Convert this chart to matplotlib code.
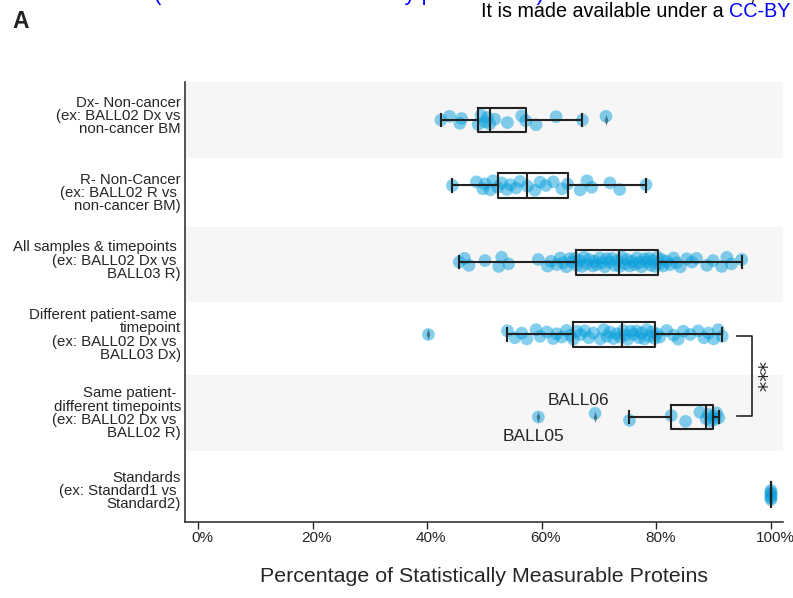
import matplotlib
matplotlib.use('Agg')
import matplotlib.pyplot as plt
import matplotlib.transforms as mtransforms
from matplotlib.path import Path
import numpy as np

plt.rcParams['font.family'] = ['Liberation Sans', 'DejaVu Sans']

# ---------------- data ----------------
categories = [
    "Dx- Non-cancer\n(ex: BALL02 Dx vs\nnon-cancer BM",
    "R- Non-Cancer\n(ex: BALL02 R vs \nnon-cancer BM)",
    "All samples & timepoints \n(ex: BALL02 Dx vs \nBALL03 R)",
    "Different patient-same \ntimepoint\n(ex: BALL02 Dx vs \nBALL03 Dx)",
    "Same patient- \ndifferent timepoints\n(ex: BALL02 Dx vs \nBALL02 R)",
    "Standards\n(ex: Standard1 vs \nStandard2)",
]

dx_noncancer = [42.4, 43.9, 45.7, 46.0, 48.9, 49.4, 50.1, 50.5, 50.9, 51.8,
                54.0, 56.5, 57.2, 59.0, 62.5, 67.1, 71.2]
r_noncancer = [44.4, 48.6, 49.7, 50.1, 51.0, 51.5, 52.3, 53.0, 53.9, 54.5,
               55.5, 56.2, 57.5, 58.8, 59.7, 60.7, 62.0, 63.5, 64.5, 66.7,
               67.9, 68.7, 71.9, 73.6, 78.2]
all_samples = [45.6, 46.5, 47.3, 50.1, 52.5, 53.0, 54.2, 59.4, 61.0, 61.6,
               62.6, 63.2, 63.7, 64.3, 64.9,
               65.3, 65.8, 66.1, 66.5, 67.0, 67.4, 67.8, 68.3, 68.9, 69.2,
               69.6, 70.1, 70.5, 71.0, 71.3, 71.8, 72.2, 72.7, 73.2,
               73.6, 74.0, 74.5, 74.9, 75.3, 75.8, 76.2, 76.6, 77.0, 77.4,
               77.9, 78.3, 78.7, 79.0, 79.4, 79.8, 80.2, 80.5, 80.9,
               81.2, 81.8, 82.4, 83.0, 83.5, 84.2, 85.3, 86.2, 87.0, 88.8,
               89.9, 91.4, 92.3, 93.1, 94.9]
diff_patient_same_tp = [40.2,
                        54.0, 55.3, 56.5, 57.4, 59.0, 59.7, 60.9, 62.0, 62.6,
                        63.5, 64.3, 65.0, 65.5,
                        66.1, 66.8, 67.5, 68.2, 69.0, 70.2, 70.8, 71.4, 71.9,
                        72.5, 73.1, 73.7, 74.2,
                        74.5, 75.0, 75.5, 76.0, 76.5, 77.0, 77.4, 77.9, 78.3,
                        78.8, 79.3, 79.7, 80.1,
                        80.6, 81.8, 83.0, 83.8, 84.7, 85.9, 87.3, 88.3, 89.1,
                        90.0, 90.8, 91.5]
same_patient_diff_tp = [59.4, 69.3, 75.3, 82.6, 85.1, 87.6, 88.7, 89.1, 89.4,
                        89.9, 90.2, 90.5, 90.9]
standards = [100.0, 100.0, 100.0, 100.0, 100.0, 100.0]

series = [dx_noncancer, r_noncancer, all_samples, diff_patient_same_tp,
          same_patient_diff_tp, standards]

xtick_vals = [0, 20, 40, 60, 80, 100]
xtick_labels = ["0%", "20%", "40%", "60%", "80%", "100%"]

annot_labels = ["BALL06", "BALL05"]

# ---------------- layout ----------------
row_pos = [0.018, 0.911, 1.955, 2.943, 4.068, 5.13]
label_pos = [-0.05, 1.0, 1.92, 2.936, 4.0, 5.064]
bands = [(-0.5, 0.536), (1.477, 2.5), (3.496, 4.53)]
jitter_cycle = np.array([0.0, -0.05, 0.045, -0.02, 0.06, -0.065, 0.025,
                         -0.035, 0.055, -0.01, 0.035, -0.055, 0.01, 0.065,
                         -0.045])
std_jitter = np.array([-0.06, -0.035, -0.01, 0.015, 0.04, 0.065])

dot_color = '#0aa0dc'
ink = '#262626'

thin_diamond = Path([(0, 1), (0.32, 0), (0, -1), (-0.32, 0), (0, 1)],
                    [Path.MOVETO, Path.LINETO, Path.LINETO, Path.LINETO,
                     Path.CLOSEPOLY])

fig = plt.figure(figsize=(7.93, 5.98), dpi=100)
ax = fig.add_axes([185 / 793, 1 - 522 / 598, (783 - 185) / 793, (522 - 82) / 598])

for a, b in bands:
    ax.axhspan(a, b, color='#f6f6f6', lw=0, zorder=0)

for vals, pos in zip(series, row_pos):
    n = len(vals)
    jit = std_jitter if vals is standards else np.resize(jitter_cycle, n)
    ax.scatter(vals, pos + jit, s=84, color=dot_color, alpha=0.5,
               edgecolors='none', zorder=2)

ax.boxplot(series, positions=row_pos, orientation='horizontal', widths=0.34,
           manage_ticks=False,
           boxprops=dict(color='#222222', lw=1.5),
           whiskerprops=dict(color='#222222', lw=1.5),
           capprops=dict(color='#222222', lw=1.5),
           medianprops=dict(color='#222222', lw=1.5),
           flierprops=dict(marker=thin_diamond, markersize=8,
                           markerfacecolor='#2f5870', markeredgecolor='none',
                           alpha=0.75),
           zorder=3)

# significance bracket
ax.plot([94.1, 96.7, 96.7, 94.1], [2.96, 2.96, 4.055, 4.055], color=ink,
        lw=1.2, zorder=3, clip_on=False)
ax.text(97.4, 3.51, '***', rotation=270, ha='center', va='center',
        fontsize=15, color=ink, family=['DejaVu Sans'])

# annotations
ax.text(66.4, 3.84, annot_labels[0], ha='center', va='center', fontsize=12.5,
        color=ink)
ax.text(58.5, 4.33, annot_labels[1], ha='center', va='center', fontsize=12.5,
        color=ink)

ax.set_xlim(-2.27, 102.1)
ax.set_ylim(5.5, -0.5)
ax.set_xticks(xtick_vals)
ax.tick_params(axis='x', length=5, width=1, color=ink, labelbottom=False)
# x tick labels: drawn slightly right of their ticks, as in the reference
lab_trans = ax.get_xaxis_transform() + mtransforms.ScaledTranslation(
    4 / 100, -9 / 100, fig.dpi_scale_trans)
for v, lab in zip(xtick_vals, xtick_labels):
    ax.text(v, 0, lab, transform=lab_trans, ha='center', va='top',
            fontsize=11, color=ink, clip_on=False)

ax.set_yticks(label_pos)
ax.set_yticklabels(categories, fontsize=10.8, color=ink, linespacing=0.92)
ax.tick_params(axis='y', length=0, pad=3)
for s in ['top', 'right']:
    ax.spines[s].set_visible(False)
for s in ['left', 'bottom']:
    ax.spines[s].set_color(ink)
    ax.spines[s].set_linewidth(1.1)
ax.text(0.5, -55 / 440, 'Percentage of Statistically Measurable Proteins',
        transform=ax.transAxes, ha='center', va='center', fontsize=15.4,
        color=ink)

# figure-level texts
fig.text(21 / 793, 1 - 21 / 598, 'A', fontsize=16.5, fontweight='bold',
         ha='center', va='center', color='#222222')
fig.text(154 / 793, 1.0, '(which was not certified by peer review)',
         fontsize=16, color='#0000ff', va='baseline', ha='left')
fig.text(553 / 793, 1.0,
         ' is the author/funder, who has granted bioRxiv a license to display the preprint in perpetuity.',
         fontsize=16, color='black', va='baseline', ha='left')
t1 = fig.text(481 / 793, 1 - 17 / 598, 'It is made available under a ',
              fontsize=14.2, color='black', va='baseline', ha='left')
fig.canvas.draw()
bb = t1.get_window_extent()
fig.text(bb.x1 / 793, 1 - 17 / 598, 'CC-BY 4.0 International license.',
         fontsize=14.2, color='#0000ff', va='baseline', ha='left')

fig.savefig('out.png', dpi=100)
